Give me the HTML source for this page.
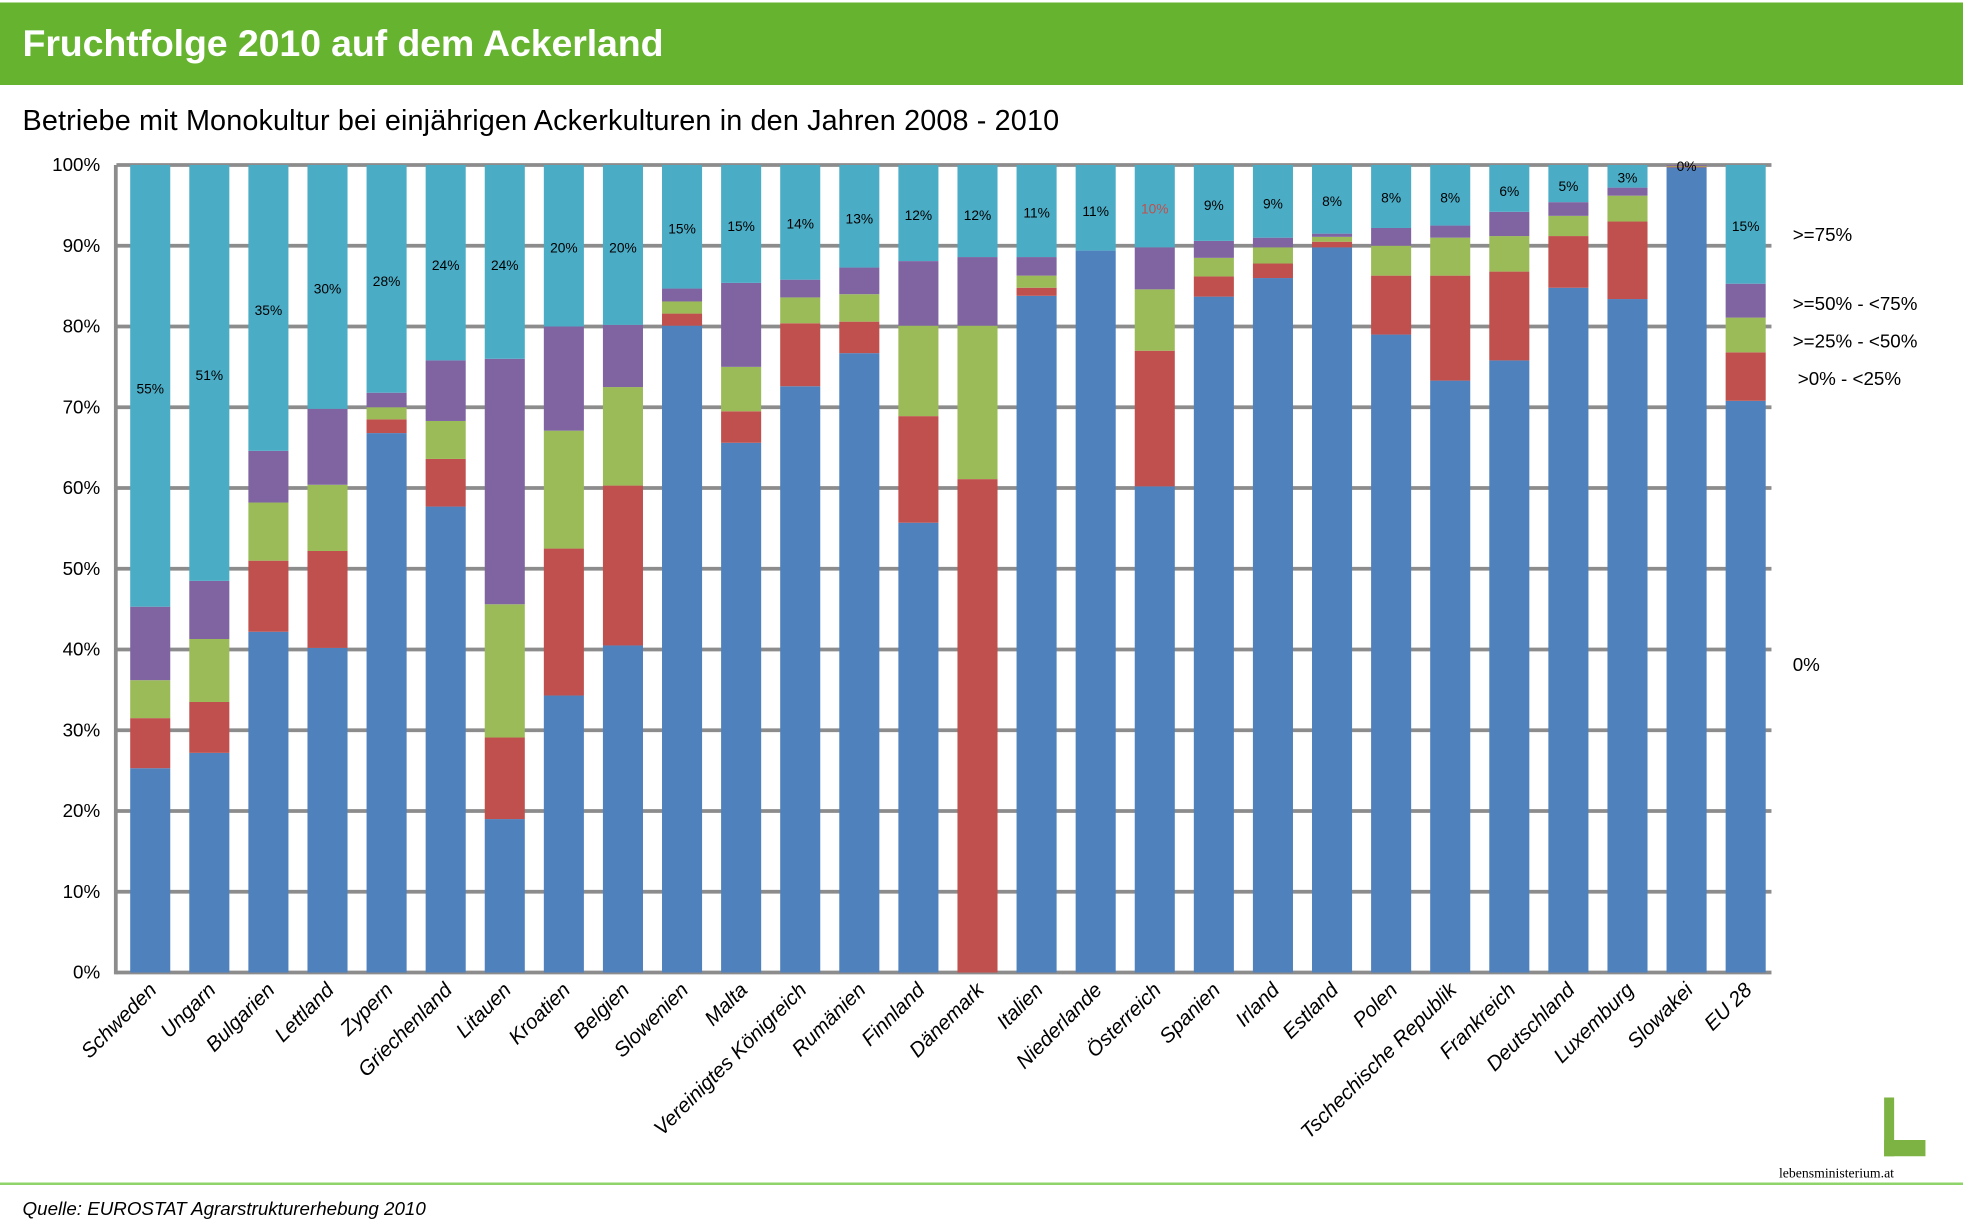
<!DOCTYPE html>
<html><head><meta charset="utf-8"><style>
html,body{margin:0;padding:0;background:#fff;}
svg{display:block;font-family:"Liberation Sans",Arial,sans-serif;}
</style></head><body>
<svg id="c" width="1963" height="1225" viewBox="0 0 1568 980" preserveAspectRatio="none" xmlns="http://www.w3.org/2000/svg">
<rect x="0" y="2" width="1568" height="66" fill="#65b32e"/>
<text x="18" y="45" font-size="30" font-weight="bold" fill="#fff" textLength="512">Fruchtfolge 2010 auf dem Ackerland</text>
<text x="18" y="104" font-size="23" fill="#000" textLength="828">Betriebe mit Monokultur bei einjährigen Ackerkulturen in den Jahren 2008 - 2010</text>
<g id="grid"></g>
<g id="bars"></g>
<g font-size="15" fill="#000">
<text x="1432" y="193">&gt;=75%</text>
<text x="1432" y="248">&gt;=50% - &lt;75%</text>
<text x="1432" y="278">&gt;=25% - &lt;50%</text>
<text x="1436" y="308">&gt;0% - &lt;25%</text>
<text x="1432" y="537">0%</text>
</g>
<rect x="1505" y="878" width="8" height="47" fill="#7cb342"/>
<rect x="1505" y="912" width="33" height="13" fill="#7cb342"/>
<text x="1421" y="942" font-size="11" font-family="Liberation Serif,serif">lebensministerium.at</text>
<rect x="0" y="946" width="1568" height="2" fill="#8fd46a"/>
<text x="18" y="972" font-size="15" font-style="italic">Quelle:  EUROSTAT Agrarstrukturerhebung 2010</text>
</svg>
<script>
var d=[
["Schweden",25.3,31.5,36.2,45.3,"55%",311],
["Ungarn",27.2,33.5,41.3,48.5,"51%",300],
["Bulgarien",42.2,51.0,58.2,64.6,"35%",248],
["Lettland",40.2,52.2,60.4,69.8,"30%",231],
["Zypern",66.8,68.5,70.0,71.8,"28%",225],
["Griechenland",57.7,63.6,68.3,75.8,"24%",212],
["Litauen",19.0,29.1,45.6,76.0,"24%",212],
["Kroatien",34.3,52.5,67.1,80.0,"20%",198],
["Belgien",40.5,60.3,72.5,80.2,"20%",198],
["Slowenien",80.1,81.6,83.1,84.7,"15%",183],
["Malta",65.6,69.5,75.0,85.4,"15%",181],
["Vereinigtes Königreich",72.6,80.4,83.6,85.8,"14%",179],
["Rumänien",76.7,80.6,84.0,87.3,"13%",175],
["Finnland",55.7,68.9,80.1,88.1,"12%",172],
["Dänemark",0,61.1,80.1,88.6,"12%",172],
["Italien",83.8,84.8,86.3,88.6,"11%",170],
["Niederlande",89.4,89.4,89.4,89.4,"11%",169],
["Österreich",60.2,77.0,84.6,89.8,"10%",167],
["Spanien",83.7,86.2,88.5,90.6,"9%",164],
["Irland",86.0,87.8,89.8,91.0,"9%",163],
["Estland",89.8,90.5,91.1,91.5,"8%",161],
["Polen",79.0,86.3,90.0,92.2,"8%",158],
["Tschechische Republik",73.3,86.3,91.0,92.5,"8%",158],
["Frankreich",75.8,86.8,91.2,94.2,"6%",153],
["Deutschland",84.8,91.2,93.7,95.4,"5%",149],
["Luxemburg",83.4,93.0,96.2,97.2,"3%",142],
["Slowakei",99.7,99.8,99.9,100,"0%",133],
["EU 28",70.8,76.8,81.1,85.3,"15%",181]];
var ns="http://www.w3.org/2000/svg",g=document.getElementById("grid"),b=document.getElementById("bars");
function el(p,t,a,tx){var e=document.createElementNS(ns,t);for(var k in a)e.setAttribute(k,a[k]);if(tx!=null)e.textContent=tx;p.appendChild(e);return e;}
var y0=778,y1=132;function Y(v){return y0-(y0-y1)*v/100;}
for(var i=0;i<=10;i++){var y=Y(i*10);
el(g,"rect",{x:93,y:y-1.5,width:1322,height:3,fill:"#8c8c8c"});
el(g,"text",{x:80,y:y+5,"font-size":15,"text-anchor":"end"},(i*10)+"%");}
el(g,"rect",{x:91,y:y1,width:3,height:y0-y1+1.5,fill:"#8c8c8c"});
var cols=["#4f81bd","#c0504d","#9bbb59","#8064a2","#4bacc6"];
d.forEach(function(r,i){var x=104+i*47.2,w=32,prev=0,v=[r[1],r[2],r[3],r[4],100];
for(var k=0;k<5;k++){var h=Y(prev)-Y(v[k]);if(h>0)el(b,"rect",{x:x,y:Y(v[k]),width:w,height:h,fill:cols[k]});prev=v[k];}
el(b,"text",{x:x+w/2,y:r[6]+4,"font-size":11,"text-anchor":"middle",fill:r[0]=="Österreich"?"#c0504d":"#000"},r[5]);
var cx=x+w/2+6,cy=793;
el(b,"text",{x:cx,y:cy,"font-size":16.5,"font-style":"italic","text-anchor":"end",transform:"rotate(-45 "+cx+" "+cy+")"},r[0]);
});
</script>
</body></html>
